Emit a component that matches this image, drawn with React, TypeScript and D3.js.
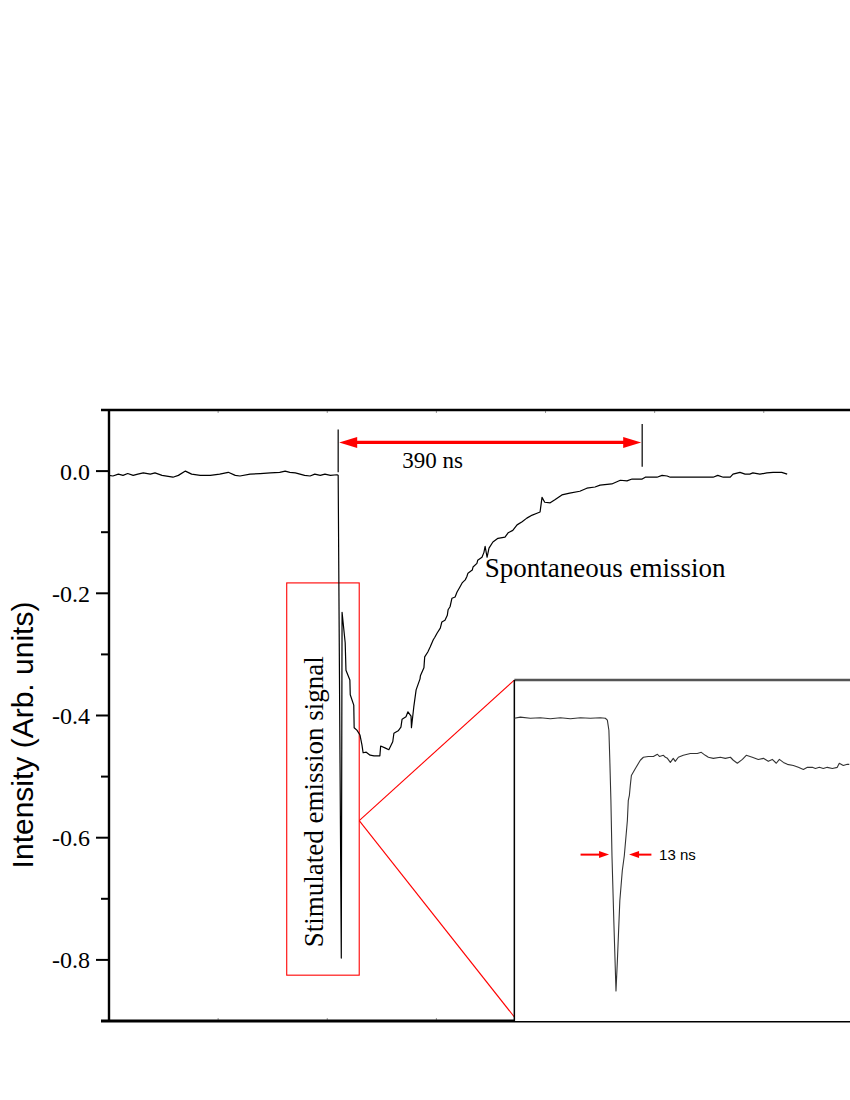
import React, { useRef, useEffect } from 'react';
import * as d3 from 'd3';

// Main trace: time (ns) vs intensity (arb. units)
const mainSignal: [number, number][] = [
  [0, -0.007], [5, -0.008], [12, -0.005], [18, -0.007], [24, -0.004], [31, -0.007],
  [37, -0.005], [44, -0.003], [53, -0.005], [59, -0.003], [68, -0.007], [82, -0.010],
  [89, -0.007], [98, 0.0], [106, -0.005], [117, -0.007], [130, -0.007], [142, -0.005],
  [153, -0.002], [162, -0.007], [168, -0.008], [181, -0.005], [194, -0.004], [207, -0.003],
  [219, -0.002], [226, 0.0], [232, -0.002], [239, -0.003], [251, -0.007], [258, -0.008],
  [264, -0.005], [271, -0.007], [277, -0.005], [284, -0.007], [292.5, -0.006],
  [294, -0.007], [298, -0.797], [299, -0.231], [303, -0.281], [304, -0.326], [309, -0.342],
  [309.5, -0.366], [314, -0.383], [314.5, -0.420], [318, -0.424], [322, -0.432],
  [324.5, -0.448], [326, -0.461], [330, -0.460], [335, -0.465], [340, -0.466],
  [347.5, -0.466], [348.5, -0.450], [354, -0.453], [359, -0.456], [364, -0.443],
  [365.5, -0.429], [371, -0.425], [374.5, -0.419], [376, -0.406], [381, -0.402],
  [383.5, -0.394], [387.5, -0.401], [388, -0.420], [391, -0.386], [394, -0.358],
  [399, -0.340], [399.5, -0.335], [404, -0.322], [405, -0.304], [409, -0.296],
  [412, -0.288], [416, -0.276], [418, -0.272], [421, -0.265], [425, -0.257],
  [427, -0.247], [431, -0.244], [434, -0.236], [435, -0.227], [437.5, -0.222],
  [440, -0.208], [444, -0.206], [446.5, -0.198], [450, -0.190], [453, -0.183],
  [457, -0.178], [459, -0.173], [460.5, -0.167], [466, -0.162], [467, -0.157],
  [472, -0.151], [473, -0.146], [478.5, -0.141], [481, -0.133], [482.5, -0.123],
  [485, -0.141], [487.5, -0.126], [492.5, -0.116], [499, -0.110], [508, -0.108],
  [512, -0.101], [518, -0.097], [523.5, -0.088], [530, -0.083], [536, -0.077],
  [543, -0.072], [549, -0.069], [553, -0.067], [555.5, -0.043], [559, -0.051],
  [566, -0.052], [572, -0.047], [581, -0.039], [591, -0.036], [604, -0.033],
  [613, -0.028], [623.5, -0.026], [630, -0.023], [645, -0.021], [656, -0.015],
  [664.5, -0.016], [671, -0.013], [684, -0.013], [688, -0.010], [703, -0.010],
  [709.5, -0.007], [716, -0.008], [720, -0.010], [775, -0.010], [781, -0.007],
  [788, -0.010], [797, -0.010], [800.5, -0.005], [809.5, -0.002], [816, -0.005],
  [822, -0.005], [826, -0.003], [835, -0.005], [844, -0.003], [852, -0.002],
  [863, -0.002], [870, -0.005],
];

// Inset: zoom on the stimulated emission pulse, time (ns) vs normalised intensity
const insetSignal: [number, number][] = [
  [0, 0.0], [3.9, 0.004], [10.4, 0.0], [16.9, 0.002], [23.4, -0.002], [29.9, 0.002],
  [36.4, -0.002], [42.9, 0.002], [49.4, 0.0], [55.8, 0.002], [59.1, 0.0], [60.4, -0.007],
  [61.4, -0.044], [62.0, -0.154], [62.7, -0.301], [63.4, -0.504], [64.6, -0.743],
  [66.0, -1.0], [66.9, -0.89], [68.5, -0.669], [70.1, -0.559], [71.4, -0.504],
  [73.4, -0.375], [74.0, -0.301], [74.7, -0.283], [75.3, -0.246], [76.0, -0.21],
  [78.6, -0.184], [81.8, -0.154], [83.8, -0.143], [87.0, -0.14], [90.3, -0.14],
  [92.9, -0.132], [94.2, -0.14], [96.8, -0.136], [98.1, -0.143], [99.4, -0.147],
  [101.3, -0.162], [103.2, -0.147], [104.5, -0.158], [106.5, -0.143], [109.7, -0.136],
  [114.3, -0.129], [118.8, -0.129], [121.4, -0.125], [124.0, -0.136], [126.0, -0.143],
  [129.2, -0.147], [133.8, -0.143], [137.0, -0.147], [140.3, -0.143], [142.2, -0.154],
  [144.8, -0.165], [148.1, -0.151], [150.6, -0.136], [154.5, -0.143], [158.4, -0.151],
  [161.7, -0.147], [164.9, -0.158], [167.5, -0.151], [170.1, -0.165], [172.1, -0.151],
  [174.7, -0.162], [177.3, -0.169], [181.2, -0.173], [184.4, -0.18], [187.7, -0.188],
  [190.3, -0.18], [193.5, -0.18], [195.5, -0.184], [198.1, -0.18], [200.6, -0.184],
  [203.2, -0.18], [206.5, -0.184], [209.7, -0.18], [211.0, -0.165], [213.6, -0.173],
  [216.2, -0.169], [217.5, -0.169],
];

const yTicks = [0, -0.2, -0.4, -0.6, -0.8];
const yMinorTicks = [0.1, -0.1, -0.3, -0.5, -0.7, -0.9];
const xTicks = [140, 280, 420, 560, 700, 840];

// annotations (data units)
const pulseStart = 294;
const decayEnd = 684;
const spanLevel = 0.047;
const spanLabel = '390 ns';
const spanLabelAt: [number, number] = [415, 0.005];
const spontLabel = 'Spontaneous emission';
const stimLabel = 'Stimulated emission signal';
const highlightBox = { t0: 228, t1: 321, v0: -0.183, v1: -0.825, vMid: -0.572 };
const insetBox = { t0: 520, vTop: -0.342 };
const fwhmLevel = -0.5;
const fwhmLeft = [43, 61.5];
const fwhmRight = [89, 74.5];
const fwhmLabel = '13 ns';

const App = () => {
  const svgRef = useRef<SVGSVGElement>(null);

  useEffect(() => {
    const svg = d3.select(svgRef.current);
    svg.selectAll('*').remove();

    const serif = "'Liberation Serif', 'Times New Roman', serif";
    const sans = "'Liberation Sans', Arial, sans-serif";
    const red = '#ff0000';

    const x = d3.scaleLinear().domain([0, 1000]).range([109, 888.5]);
    const y = d3.scaleLinear().domain([-0.9, 0.1]).range([1021, 410]);

    const ix = d3.scaleLinear().domain([0, 250]).range([x(insetBox.t0), x(insetBox.t0) + 385]);
    const iy = d3.scaleLinear().domain([-1.11, 0.14]).range([y(-0.9), y(insetBox.vTop)]);

    // left axis ticks
    const g = svg.append('g');
    yTicks.forEach(v => {
      g.append('line').attr('x1', 96).attr('x2', 109).attr('y1', y(v)).attr('y2', y(v))
        .attr('stroke', '#000').attr('stroke-width', 2);
      g.append('text').attr('x', 90).attr('y', y(v)).attr('dy', '0.35em')
        .attr('text-anchor', 'end').style('font-family', serif).style('font-size', '24px')
        .text(v.toFixed(1));
    });
    yMinorTicks.forEach(v => {
      g.append('line').attr('x1', 101).attr('x2', 109).attr('y1', y(v)).attr('y2', y(v))
        .attr('stroke', '#000').attr('stroke-width', 2);
    });
    // x ticks (no labels), small inward marks
    xTicks.forEach(t => {
      g.append('line').attr('x1', x(t)).attr('x2', x(t)).attr('y1', y(-0.9)).attr('y2', y(-0.9) - 3)
        .attr('stroke', '#999').attr('stroke-width', 1);
      g.append('line').attr('x1', x(t)).attr('x2', x(t)).attr('y1', y(0.1)).attr('y2', y(0.1) + 3)
        .attr('stroke', '#999').attr('stroke-width', 1);
    });

    // frame
    g.append('line').attr('x1', 101).attr('x2', 850).attr('y1', y(0.1)).attr('y2', y(0.1))
      .attr('stroke', '#000').attr('stroke-width', 2.6);
    g.append('line').attr('x1', 101).attr('x2', 850).attr('y1', y(-0.9)).attr('y2', y(-0.9))
      .attr('stroke', '#000').attr('stroke-width', 3);
    g.append('line').attr('x1', x(0)).attr('x2', x(0)).attr('y1', y(0.1)).attr('y2', y(-0.9))
      .attr('stroke', '#000').attr('stroke-width', 2.4);

    // axis title
    svg.append('text')
      .attr('transform', `translate(33,${735}) rotate(-90)`)
      .attr('text-anchor', 'middle')
      .style('font-family', sans).style('font-size', '30px')
      .text('Intensity (Arb. units)');

    // highlight box + callout lines
    const bx0 = x(highlightBox.t0), bx1 = x(highlightBox.t1);
    svg.append('rect')
      .attr('x', bx0).attr('y', y(highlightBox.v0))
      .attr('width', bx1 - bx0).attr('height', y(highlightBox.v1) - y(highlightBox.v0))
      .attr('fill', 'none').attr('stroke', red).attr('stroke-width', 1.1);
    svg.append('line').attr('x1', bx1).attr('y1', y(highlightBox.vMid))
      .attr('x2', x(insetBox.t0)).attr('y2', y(insetBox.vTop))
      .attr('stroke', red).attr('stroke-width', 1.1);
    svg.append('line').attr('x1', bx1).attr('y1', y(highlightBox.vMid))
      .attr('x2', x(insetBox.t0)).attr('y2', y(-0.9) - 4)
      .attr('stroke', red).attr('stroke-width', 1.1);

    // main trace
    const line = d3.line<[number, number]>().x(d => x(d[0])).y(d => y(d[1]));
    svg.append('path').datum(mainSignal).attr('d', line)
      .attr('fill', 'none').attr('stroke', '#000').attr('stroke-width', 1.2)
      .attr('stroke-linejoin', 'round');

    // 390 ns span
    const ay = y(spanLevel);
    svg.append('line').attr('x1', x(pulseStart)).attr('x2', x(pulseStart))
      .attr('y1', y(0.068)).attr('y2', y(-0.002)).attr('stroke', '#000').attr('stroke-width', 1.2);
    svg.append('line').attr('x1', x(decayEnd)).attr('x2', x(decayEnd))
      .attr('y1', y(0.077)).attr('y2', y(0.007)).attr('stroke', '#000').attr('stroke-width', 1.2);
    const axL = x(pulseStart) + 1, axR = x(decayEnd) - 1;
    svg.append('line').attr('x1', axL + 10).attr('x2', axR - 10).attr('y1', ay).attr('y2', ay)
      .attr('stroke', red).attr('stroke-width', 3.2);
    svg.append('polygon')
      .attr('points', `${axL},${ay} ${axL + 18},${ay - 5.5} ${axL + 18},${ay + 5.5}`).attr('fill', red);
    svg.append('polygon')
      .attr('points', `${axR},${ay} ${axR - 18},${ay - 5.5} ${axR - 18},${ay + 5.5}`).attr('fill', red);
    svg.append('text').attr('x', x(spanLabelAt[0])).attr('y', y(spanLabelAt[1]))
      .attr('text-anchor', 'middle').style('font-family', serif).style('font-size', '23px')
      .text(spanLabel);

    svg.append('text').attr('x', x(482)).attr('y', y(-0.173))
      .style('font-family', serif).style('font-size', '27px').text(spontLabel);

    svg.append('text')
      .attr('transform', `translate(${x(274.5)},${y(-0.541)}) rotate(-90)`)
      .attr('text-anchor', 'middle')
      .style('font-family', serif).style('font-size', '27px').text(stimLabel);

    // inset
    const inset = svg.append('g');
    inset.append('rect').attr('x', x(insetBox.t0)).attr('y', y(insetBox.vTop))
      .attr('width', 850 - x(insetBox.t0) + 10).attr('height', y(-0.9) - y(insetBox.vTop))
      .attr('fill', '#fff');
    inset.append('line').attr('x1', x(insetBox.t0)).attr('x2', 860)
      .attr('y1', y(insetBox.vTop)).attr('y2', y(insetBox.vTop))
      .attr('stroke', '#555').attr('stroke-width', 2.4);
    inset.append('line').attr('x1', x(insetBox.t0)).attr('x2', x(insetBox.t0))
      .attr('y1', y(insetBox.vTop)).attr('y2', y(-0.9))
      .attr('stroke', '#000').attr('stroke-width', 1.5);
    const iline = d3.line<[number, number]>().x(d => ix(d[0])).y(d => iy(d[1]));
    inset.append('path').datum(insetSignal).attr('d', iline)
      .attr('fill', 'none').attr('stroke', '#333').attr('stroke-width', 1.1)
      .attr('stroke-linejoin', 'round');

    const fy = iy(fwhmLevel);
    const arrow = (from: number, to: number) => {
      const x0 = ix(from), x1 = ix(to);
      const dir = Math.sign(x1 - x0);
      inset.append('line').attr('x1', x0).attr('x2', x1 - dir * 8).attr('y1', fy).attr('y2', fy)
        .attr('stroke', red).attr('stroke-width', 2);
      inset.append('polygon')
        .attr('points', `${x1},${fy} ${x1 - dir * 10},${fy - 3.5} ${x1 - dir * 10},${fy + 3.5}`)
        .attr('fill', red);
    };
    arrow(fwhmLeft[0], fwhmLeft[1]);
    arrow(fwhmRight[0], fwhmRight[1]);
    inset.append('text').attr('x', ix(94)).attr('y', fy).attr('dy', '0.35em')
      .style('font-family', sans).style('font-size', '15px').text(fwhmLabel);
  }, []);

  return (
    <svg
      ref={svgRef}
      width={850}
      height={1100}
      style={{ position: 'absolute', left: 0, top: 0, background: '#fff' }}
    />
  );
};

export default App;
